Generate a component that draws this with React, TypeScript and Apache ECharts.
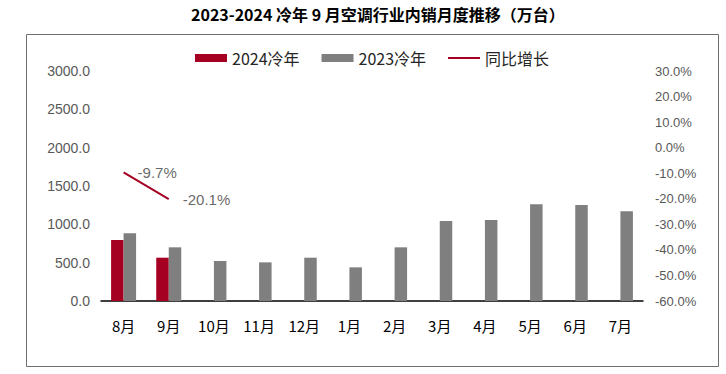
import React, { useEffect, useRef } from "react";
import * as echarts from "echarts";

const categories = ["8月", "9月", "10月", "11月", "12月", "1月", "2月", "3月", "4月", "5月", "6月", "7月"];
const sales2024: (number | null)[] = [796, 565, null, null, null, null, null, null, null, null, null, null];
const sales2023: number[] = [883, 700, 522, 504, 565, 439, 700, 1043, 1057, 1261, 1252, 1170];
const yoyGrowth: (number | null)[] = [-9.7, -20.1, null, null, null, null, null, null, null, null, null, null];
const titleText = "2023-2024 冷年 9 月空调行业内销月度推移（万台）";

export default function App() {
  const ref = useRef<HTMLDivElement>(null);
  useEffect(() => {
    document.body.style.margin = "0";
    if (!ref.current) return;
    const chart = echarts.init(ref.current, null, { renderer: "svg" });
    const red = "#A50021";
    const gray = "#7F7F7F";
    chart.setOption({
      animation: false,
      backgroundColor: "#ffffff",
      title: {
        text: titleText,
        left: 186,
        top: 1,
        textStyle: { fontFamily: "Noto Sans CJK SC", fontSize: 16, fontWeight: "bold", color: "#000" },
      },
      graphic: [
        {
          type: "rect",
          shape: { x: 26.5, y: 34.5, width: 692, height: 332 },
          style: { fill: "none", stroke: "#6f6f6f", lineWidth: 1 },
          silent: true,
        },
      ],
      legend: {
        left: 195,
        top: 50,
        padding: 0,
        itemWidth: 32,
        itemHeight: 8,
        itemGap: 22,
        textStyle: { fontFamily: "Noto Sans CJK SC", fontSize: 16, color: "#262626" },
        data: [
          { name: "2024冷年", icon: "rect" },
          { name: "2023冷年", icon: "rect" },
          { name: "同比增长", icon: "path://M0,0H32V2H0Z" },
        ],
      },
      grid: { left: 101, right: 83, top: 71, bottom: 73 },
      xAxis: {
        type: "category",
        data: categories,
        axisLine: { lineStyle: { color: "#000", width: 1.5 } },
        axisTick: { show: false },
        axisLabel: { fontFamily: "Noto Sans CJK SC", fontSize: 15, color: "#000", margin: 17 },
      },
      yAxis: [
        {
          type: "value",
          min: 0,
          max: 3000,
          interval: 500,
          axisLine: { show: false },
          axisTick: { show: false },
          splitLine: { show: false },
          axisLabel: {
            fontFamily: "Liberation Sans",
            fontSize: 14,
            color: "#595959",
            margin: 11,
            formatter: (v: number) => v.toFixed(1),
          },
        },
        {
          type: "value",
          min: -60,
          max: 30,
          interval: 10,
          axisLine: { show: false },
          axisTick: { show: false },
          splitLine: { show: false },
          axisLabel: {
            fontFamily: "Liberation Sans",
            fontSize: 13,
            color: "#595959",
            margin: 12,
            formatter: (v: number) => v.toFixed(1) + "%",
          },
        },
      ],
      series: [
        {
          name: "2024冷年",
          type: "bar",
          data: sales2024,
          barWidth: 12.5,
          barGap: "0%",
          itemStyle: { color: red },
        },
        {
          name: "2023冷年",
          type: "bar",
          data: sales2023,
          barWidth: 12.5,
          barGap: "0%",
          itemStyle: { color: gray },
        },
        {
          name: "同比增长",
          type: "line",
          yAxisIndex: 1,
          data: yoyGrowth,
          symbol: "none",
          lineStyle: { color: red, width: 2 },
          itemStyle: { color: red },
        },
        {
          name: "同比增长标签",
          type: "scatter",
          yAxisIndex: 1,
          data: yoyGrowth,
          symbolSize: 0,
          itemStyle: { color: "rgba(0,0,0,0)" },
          label: {
            show: true,
            position: "right",
            distance: 14,
            fontFamily: "Liberation Sans",
            fontSize: 15,
            color: "#404040",
            formatter: (p: any) => (p.value == null ? "" : Number(p.value).toFixed(1) + "%"),
          },
        },
      ],
    });
    return () => chart.dispose();
  }, []);
  return <div ref={ref} style={{ width: 726, height: 374 }} />;
}
